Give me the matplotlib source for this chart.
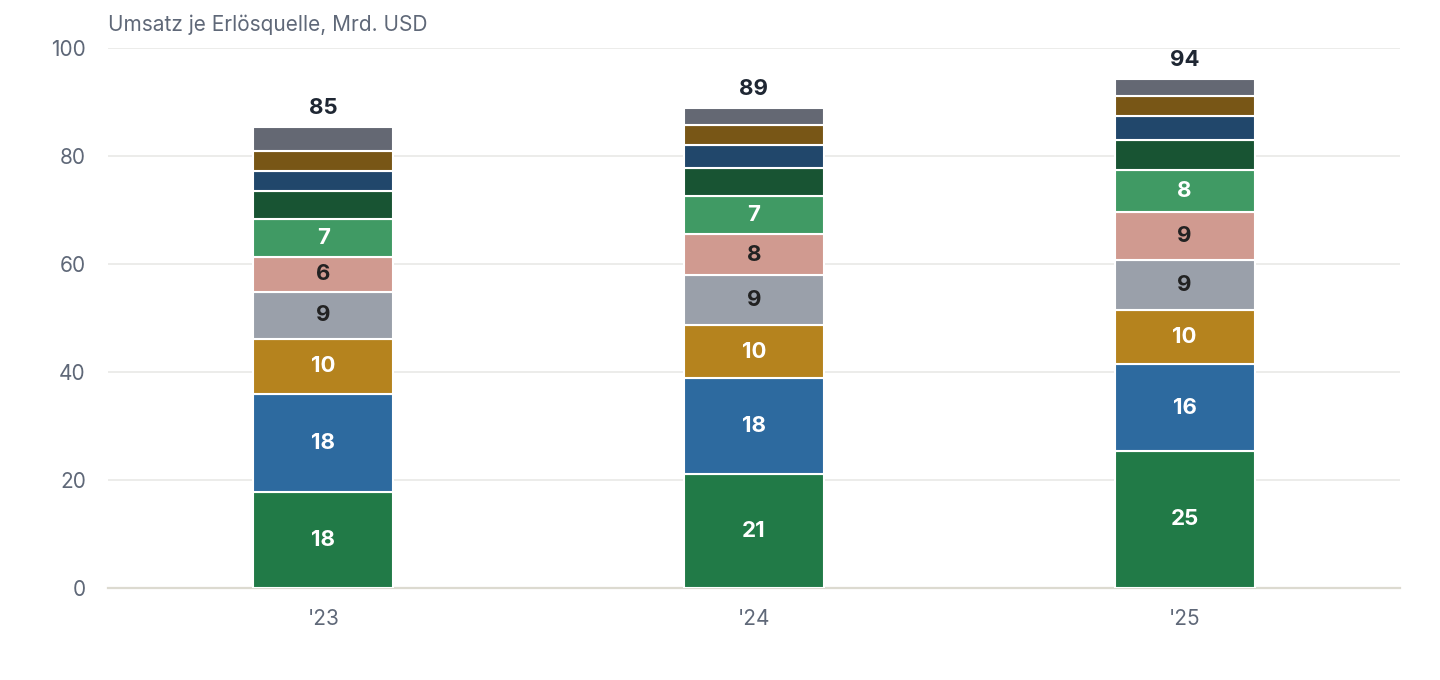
import numpy as np
import matplotlib.pyplot as plt

plt.rcParams['font.family'] = ['Inter', 'DejaVu Sans']

years = ["'23", "'24", "'25"]

# segments from bottom to top, Mrd. USD
seg1 = [17.8, 21.1, 25.4]
seg2 = [18.2, 17.7, 16.0]
seg3 = [10.1, 9.9, 10.1]
seg4 = [8.8, 9.2, 9.2]
seg5 = [6.4, 7.6, 9.0]
seg6 = [7.1, 7.1, 7.8]
seg7 = [5.1, 5.2, 5.5]
seg8 = [3.8, 4.3, 4.5]
seg9 = [3.7, 3.6, 3.7]
seg10 = [4.3, 3.1, 3.0]
totals = [85, 89, 94]

segments = [seg1, seg2, seg3, seg4, seg5, seg6, seg7, seg8, seg9, seg10]
colors = ['#217a47', '#2d6a9f', '#b5831e', '#9aa0aa', '#d09a90',
          '#409a64', '#185433', '#21476b', '#785616', '#646873']
label_colors = ['white', 'white', 'white', '#222222', '#222222',
                'white', None, None, None, None]

fig = plt.figure(figsize=(14.4, 6.8), dpi=100)
ax = fig.add_axes([0.075, 0.1353, 0.8972, 0.7941])

x = np.arange(len(years))
bottom = np.zeros(len(years))
for vals, col, lc in zip(segments, colors, label_colors):
    vals = np.array(vals)
    ax.bar(x, vals, width=0.325, bottom=bottom, color=col,
           edgecolor='white', linewidth=1.5, zorder=3)
    if lc is not None:
        for xi, b, v in zip(x, bottom, vals):
            ax.text(xi, b + v / 2, f"{v:.0f}", ha='center', va='center',
                    color=lc, fontsize=16, fontweight='bold', zorder=4)
    bottom += vals

for xi, top, t in zip(x, bottom, totals):
    ax.annotate(str(t), (xi, top), xytext=(0, 7), textcoords='offset points',
                ha='center', va='bottom', fontsize=16, fontweight='bold',
                color='#1f2733')

ax.set_xlim(-0.5, 2.5)
ax.set_ylim(0, 100)
ax.set_yticks([0, 20, 40, 60, 80, 100])
ax.set_xticks(x)
ax.set_xticklabels(years)
ax.yaxis.grid(True, color='#ebebe8', linewidth=1.3, zorder=0)
ax.set_axisbelow(True)
for s in ['top', 'right', 'left']:
    ax.spines[s].set_visible(False)
ax.spines['bottom'].set_color('#dcdad0')
ax.spines['bottom'].set_linewidth(1.6)
ax.tick_params(axis='both', length=0, labelsize=15, colors='#5f6878')
ax.tick_params(axis='y', pad=16)
ax.tick_params(axis='x', pad=15)

fig.text(0.075, 0.963, 'Umsatz je Erlösquelle, Mrd. USD', ha='left', va='center',
         fontsize=15, color='#5f6878')

fig.savefig('out.png', dpi=100)
